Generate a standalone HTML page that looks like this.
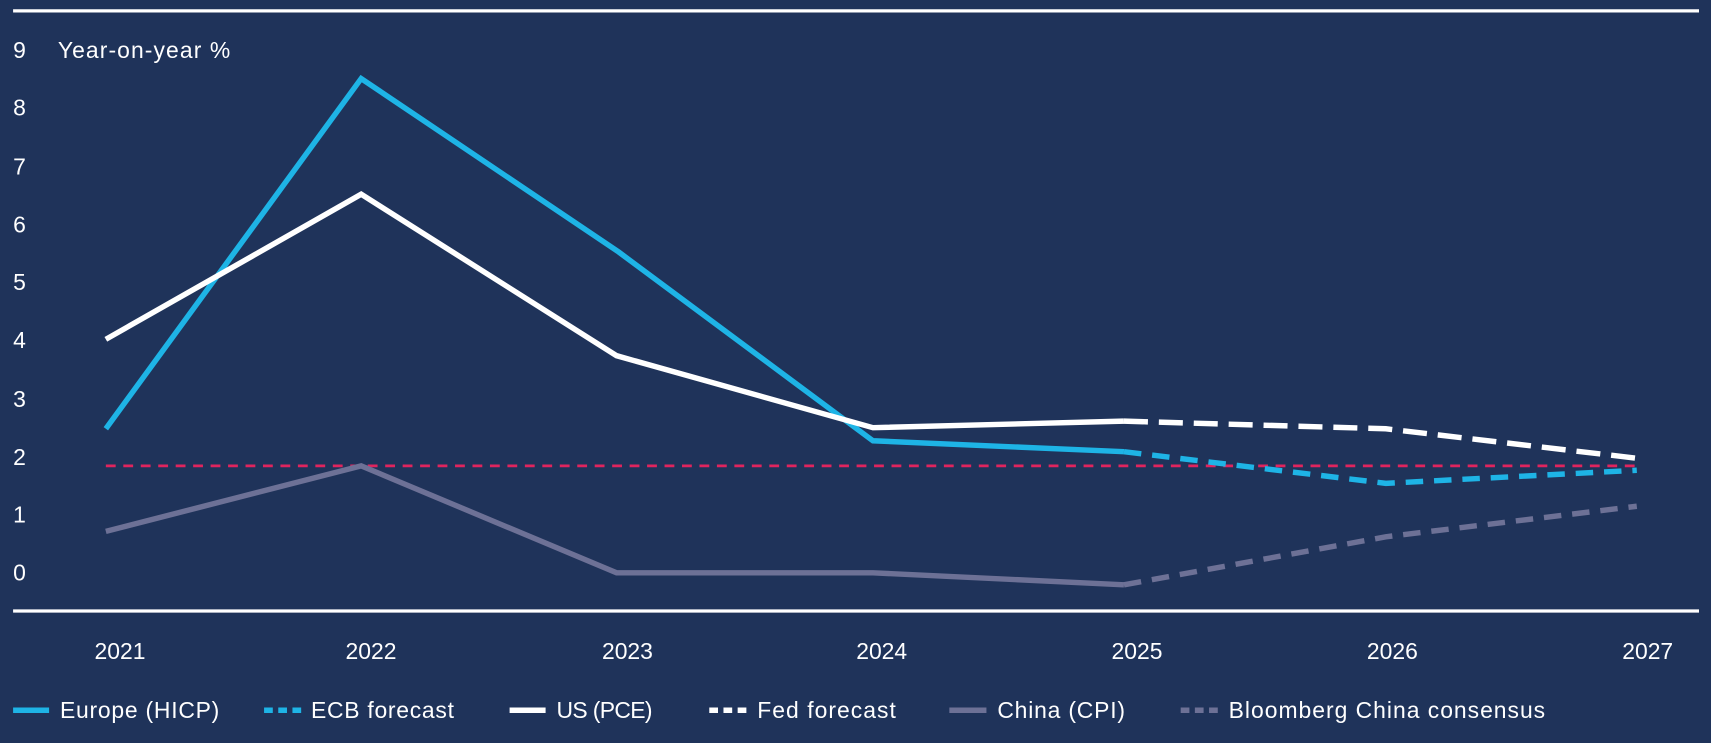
<!DOCTYPE html>
<html><head><style>
html,body{margin:0;padding:0;background:#1f335a;}
svg{display:block;}
text{font-family:"Liberation Sans",sans-serif;fill:#fff;}
</style></head><body>
<svg width="1711" height="743" viewBox="0 0 1568 681" preserveAspectRatio="none">
<rect width="1568" height="681" fill="#1f335a"/>
<line x1="12" y1="10" x2="1557" y2="10" stroke="#fff" stroke-width="3"/>
<line x1="12" y1="560" x2="1557" y2="560" stroke="#fff" stroke-width="3"/>
<g font-size="21">
<text x="12" y="53">9</text><text x="12" y="106">8</text><text x="12" y="160">7</text>
<text x="12" y="213">6</text><text x="12" y="266">5</text><text x="12" y="319">4</text>
<text x="12" y="373">3</text><text x="12" y="426">2</text><text x="12" y="479">1</text>
<text x="12" y="532">0</text>
<text x="53" y="53" textLength="158">Year-on-year %</text>
</g>
<g font-size="21" text-anchor="middle">
<text x="110" y="604">2021</text><text x="340" y="604">2022</text><text x="575" y="604">2023</text>
<text x="808" y="604">2024</text><text x="1042" y="604">2025</text><text x="1276" y="604">2026</text>
<text x="1510" y="604">2027</text>
</g>
<line x1="97" y1="427" x2="1500" y2="427" stroke="#e0245e" stroke-width="2.5" stroke-dasharray="9,7"/>
<polyline points="97,487 331,427 565,525 800,525 1030,536" fill="none" stroke="#6d7196" stroke-width="5"/>
<polyline points="1030,536 1270,492 1500,464" fill="none" stroke="#6d7196" stroke-width="5" stroke-dasharray="16,10"/>
<polyline points="97,393 331,72 567,231 800,404 1030,414" fill="none" stroke="#1eb4e6" stroke-width="5"/>
<polyline points="1030,414 1270,443 1500,431" fill="none" stroke="#1eb4e6" stroke-width="5" stroke-dasharray="16,10"/>
<polyline points="97,311 331,178 565,326 800,392 1030,386" fill="none" stroke="#fff" stroke-width="5"/>
<polyline points="1030,386 1270,393 1500,420" fill="none" stroke="#fff" stroke-width="5" stroke-dasharray="22,10"/>
<g font-size="21">
<line x1="12" y1="651" x2="45" y2="651" stroke="#1eb4e6" stroke-width="5"/><text x="55" y="658" textLength="146">Europe (HICP)</text>
<line x1="242" y1="651" x2="276" y2="651" stroke="#1eb4e6" stroke-width="5" stroke-dasharray="8,5"/><text x="285" y="658" textLength="131">ECB forecast</text>
<line x1="467" y1="651" x2="500" y2="651" stroke="#fff" stroke-width="5"/><text x="510" y="658" textLength="88">US (PCE)</text>
<line x1="650" y1="651" x2="684" y2="651" stroke="#fff" stroke-width="5" stroke-dasharray="8,5"/><text x="694" y="658" textLength="127">Fed forecast</text>
<line x1="870" y1="651" x2="904" y2="651" stroke="#6d7196" stroke-width="5"/><text x="914" y="658" textLength="117">China (CPI)</text>
<line x1="1082" y1="651" x2="1116" y2="651" stroke="#6d7196" stroke-width="5" stroke-dasharray="8,5"/><text x="1126" y="658" textLength="290">Bloomberg China consensus</text>
</g>
</svg>
</body></html>
